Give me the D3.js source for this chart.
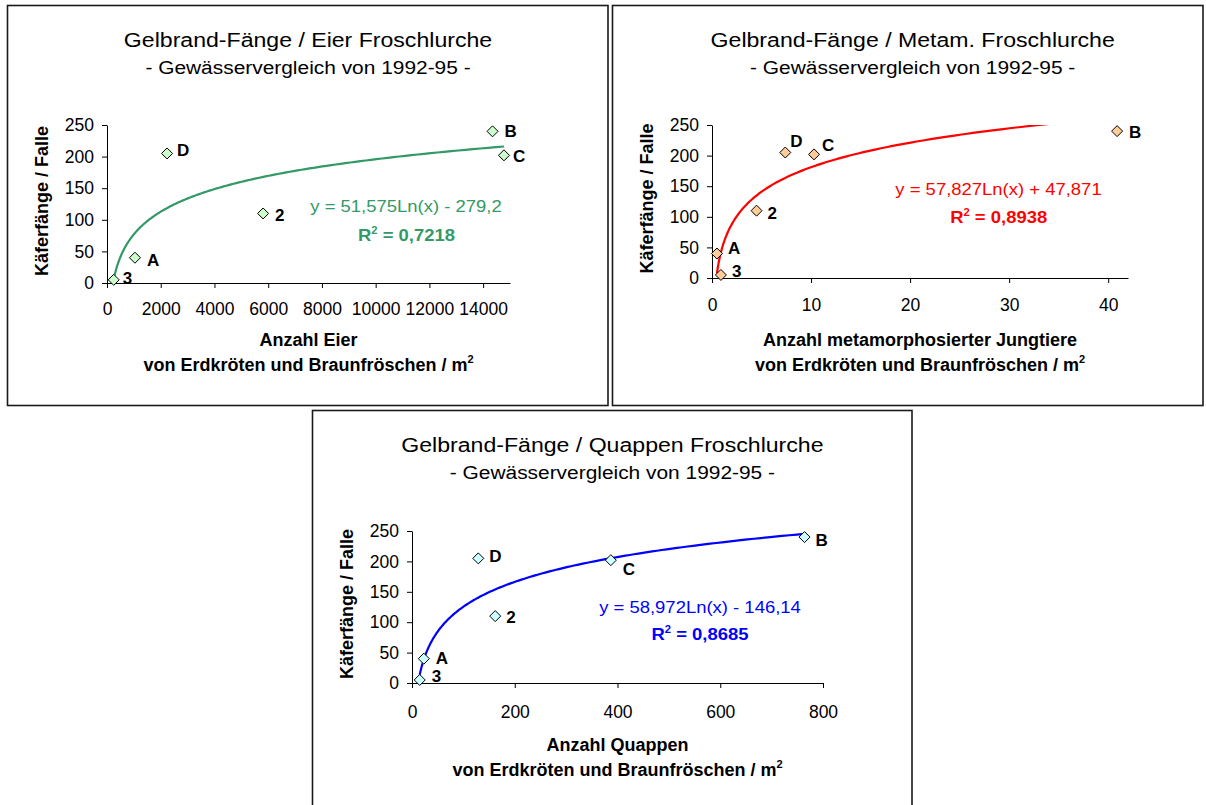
<!DOCTYPE html>
<html><head><meta charset="utf-8">
<script src="https://cdn.jsdelivr.net/npm/d3@7"></script>
<style>
body{margin:0;background:#fff;}
svg{display:block;}
text{font-family:"Liberation Sans", Arial, sans-serif;}
</style>
</head><body>
<svg id="c" width="1206" height="805"></svg>
<script>
// ---------- DATA ----------
const sites = ["3", "A", "D", "2", "B", "C"];
const catches = [5, 40, 205, 110, 240, 202];          // Käferfänge / Falle
const eggs = [250, 1040, 2235, 5810, 14350, 14775];    // Anzahl Eier / m²
const metamorphs = [0.9, 0.5, 7.4, 4.5, 40.9, 10.3];   // metamorphosierte Jungtiere / m²
const tadpoles = [15, 23, 129, 162, 764, 387];         // Quappen / m²

const catchTicks = [0, 50, 100, 150, 200, 250];
const eggTicks = [0, 2000, 4000, 6000, 8000, 10000, 12000, 14000];
const metaTicks = [0, 10, 20, 30, 40];
const tadTicks = [0, 200, 400, 600, 800];

// logarithmic trend lines y = a*ln(x) + b
const eggFit = [51.575, -279.2];
const metaFit = [57.827, 47.871];
const tadFit = [58.972, -146.14];
const eqTexts = ["y = 51,575Ln(x) - 279,2", "y = 57,827Ln(x) + 47,871", "y = 58,972Ln(x) - 146,14"];
const r2Texts = [" = 0,7218", " = 0,8938", " = 0,8685"];

const titles = ["Gelbrand-Fänge / Eier Froschlurche", "Gelbrand-Fänge / Metam. Froschlurche", "Gelbrand-Fänge / Quappen Froschlurche"];
const subtitle = "- Gewässervergleich von 1992-95 -";
const yTitle = "Käferfänge / Falle";
const xTitles = ["Anzahl Eier", "Anzahl metamorphosierter Jungtiere", "Anzahl Quappen"];
const xTitle2 = "von Erdkröten und Braunfröschen / m";

// ---------- LAYOUT / STYLE ----------
const panels = [
  { xs: eggs, fit: eggFit, xTicks: eggTicks, xMax: 15000,
    line: "#339966", fill: "#ccffcc",
    frame: [7.5, 5.5, 608, 405.5], plot: { l: 107, r: 510, t: 125, b: 283 },
    titleX: 308, frameTop: 5, tickBase: 315, eq: [406, 211.7], r2: [406.5, 240.7],
    offs: [[9, -2], [12, 2], [10, -3], [12, 2], [12, 0], [9, 1]] },
  { xs: metamorphs, fit: metaFit, xTicks: metaTicks, xMax: 42,
    line: "#ff0000", fill: "#ffcc99",
    frame: [612.5, 5.5, 1203, 405.5], plot: { l: 712, r: 1128, t: 125, b: 278 },
    titleX: 912.7, frameTop: 5, tickBase: 311, eq: [998.5, 195], r2: [998.7, 223.3],
    offs: [[11, -4], [11, -6], [5, -12], [11, 2], [12, 1], [8, -9]] },
  { xs: tadpoles, fit: tadFit, xTicks: tadTicks, xMax: 800,
    line: "#0000ff", fill: "#ccffff",
    frame: [312.5, 410.5, 912, 812], plot: { l: 412, r: 823, t: 531, b: 683 },
    titleX: 612.4, frameTop: 410, tickBase: 718, eq: [700, 613.3], r2: [700, 640],
    offs: [[12, -4], [12, -1], [11, -2], [11, 1], [11, 3], [12, 9]] }
];

const svg = d3.select("#c");

function stretchedText(parent, x, y, str, size, weight, fill, sx, anchor) {
  const g = parent.append("g").attr("transform", `translate(${x},${y}) scale(${sx},1)`);
  return g.append("text")
    .attr("text-anchor", anchor || "middle")
    .attr("font-size", size).attr("font-weight", weight).attr("fill", fill)
    .text(str);
}

panels.forEach((p, i) => {
  const g = svg.append("g");
  const [fx0, fy0, fx1, fy1] = p.frame;
  g.append("rect").attr("x", fx0).attr("y", fy0).attr("width", fx1 - fx0).attr("height", fy1 - fy0)
    .attr("fill", "#fff").attr("stroke", "#1a1a1a").attr("stroke-width", 1.6);

  const x = d3.scaleLinear().domain([0, p.xMax]).range([p.plot.l, p.plot.r]);
  const y = d3.scaleLinear().domain([0, 250]).range([p.plot.b, p.plot.t]);

  // titles
  stretchedText(g, p.titleX, p.frameTop + 42, titles[i], 21, "normal", "#000", 1.1);
  stretchedText(g, p.titleX, p.frameTop + 69, subtitle, 19, "normal", "#000", 1.1);

  // axes
  const xa = g.append("g").attr("transform", `translate(0,${p.plot.b})`)
    .call(d3.axisBottom(x).tickValues(p.xTicks).tickSize(5).tickSizeOuter(0).tickFormat(d3.format("d")));
  xa.selectAll("text").attr("y", p.tickBase - p.plot.b).attr("dy", 0)
    .attr("font-size", 17.5).attr("font-family", "Liberation Sans, Arial, sans-serif").attr("fill", "#000");
  const ya = g.append("g").attr("transform", `translate(${p.plot.l},0)`)
    .call(d3.axisLeft(y).tickValues(catchTicks).tickSize(5).tickSizeOuter(0).tickFormat(d3.format("d")));
  ya.selectAll("text").attr("x", -13)
    .attr("font-size", 17.5).attr("font-family", "Liberation Sans, Arial, sans-serif").attr("fill", "#000");
  g.selectAll(".domain, .tick line").attr("stroke", "#000");

  // axis titles
  const cx = (p.plot.l + p.plot.r) / 2;
  g.append("text").attr("x", cx).attr("y", p.frameTop + 341).attr("text-anchor", "middle")
    .attr("font-size", 18).attr("font-weight", "bold").text(xTitles[i]);
  const t2 = g.append("text").attr("x", cx).attr("y", p.frameTop + 366).attr("text-anchor", "middle")
    .attr("font-size", 18).attr("font-weight", "bold");
  t2.append("tspan").text(xTitle2);
  t2.append("tspan").attr("font-size", 11).attr("dy", -8).text("2");

  const yc = (p.plot.t + p.plot.b) / 2 - 3;
  const ybx = p.plot.l - 59;
  g.append("text").attr("transform", `translate(${ybx},${yc}) rotate(-90)`)
    .attr("text-anchor", "middle").attr("font-size", 18).attr("font-weight", "bold").text(yTitle);

  // clip for trend line
  const clipId = "clip" + i;
  g.append("clipPath").attr("id", clipId).append("rect")
    .attr("x", p.plot.l).attr("y", p.plot.t).attr("width", p.plot.r - p.plot.l).attr("height", p.plot.b - p.plot.t);

  const xmin = d3.min(p.xs), xmax = d3.max(p.xs);
  const lnx = d3.range(0, 201).map(k => Math.log(xmin) + (Math.log(xmax) - Math.log(xmin)) * k / 200);
  const trend = lnx.map(l => [Math.exp(l), p.fit[0] * l + p.fit[1]]);
  g.append("path").attr("clip-path", `url(#${clipId})`)
    .attr("d", d3.line().x(d => x(d[0])).y(d => y(d[1]))(trend))
    .attr("fill", "none").attr("stroke", p.line).attr("stroke-width", 2.2);

  // markers
  const r = 5.5;
  g.selectAll("path.pt").data(p.xs).join("path").attr("class", "pt")
    .attr("d", (d, k) => {
      const px = x(d), py = y(catches[k]);
      return `M${px},${py - r}L${px + r},${py}L${px},${py + r}L${px - r},${py}Z`;
    })
    .attr("fill", p.fill).attr("stroke", "#000").attr("stroke-width", 1);

  // labels
  g.selectAll("text.lbl").data(p.xs).join("text").attr("class", "lbl")
    .attr("x", (d, k) => x(d) + p.offs[k][0])
    .attr("y", (d, k) => y(catches[k]) + p.offs[k][1] + 6)
    .attr("font-size", 17).attr("font-weight", "bold").attr("fill", "#000")
    .text((d, k) => sites[k]);

  // equation and R²
  stretchedText(g, p.eq[0], p.eq[1], eqTexts[i], 16.5, "normal", p.line, 1.12);
  const rt = stretchedText(g, p.r2[0], p.r2[1], "", 16.5, "bold", p.line, 1.12);
  rt.append("tspan").text("R");
  rt.append("tspan").attr("font-size", 10).attr("dy", -7).text("2");
  rt.append("tspan").attr("dy", 7).text(r2Texts[i]);
});
</script>
</body></html>
